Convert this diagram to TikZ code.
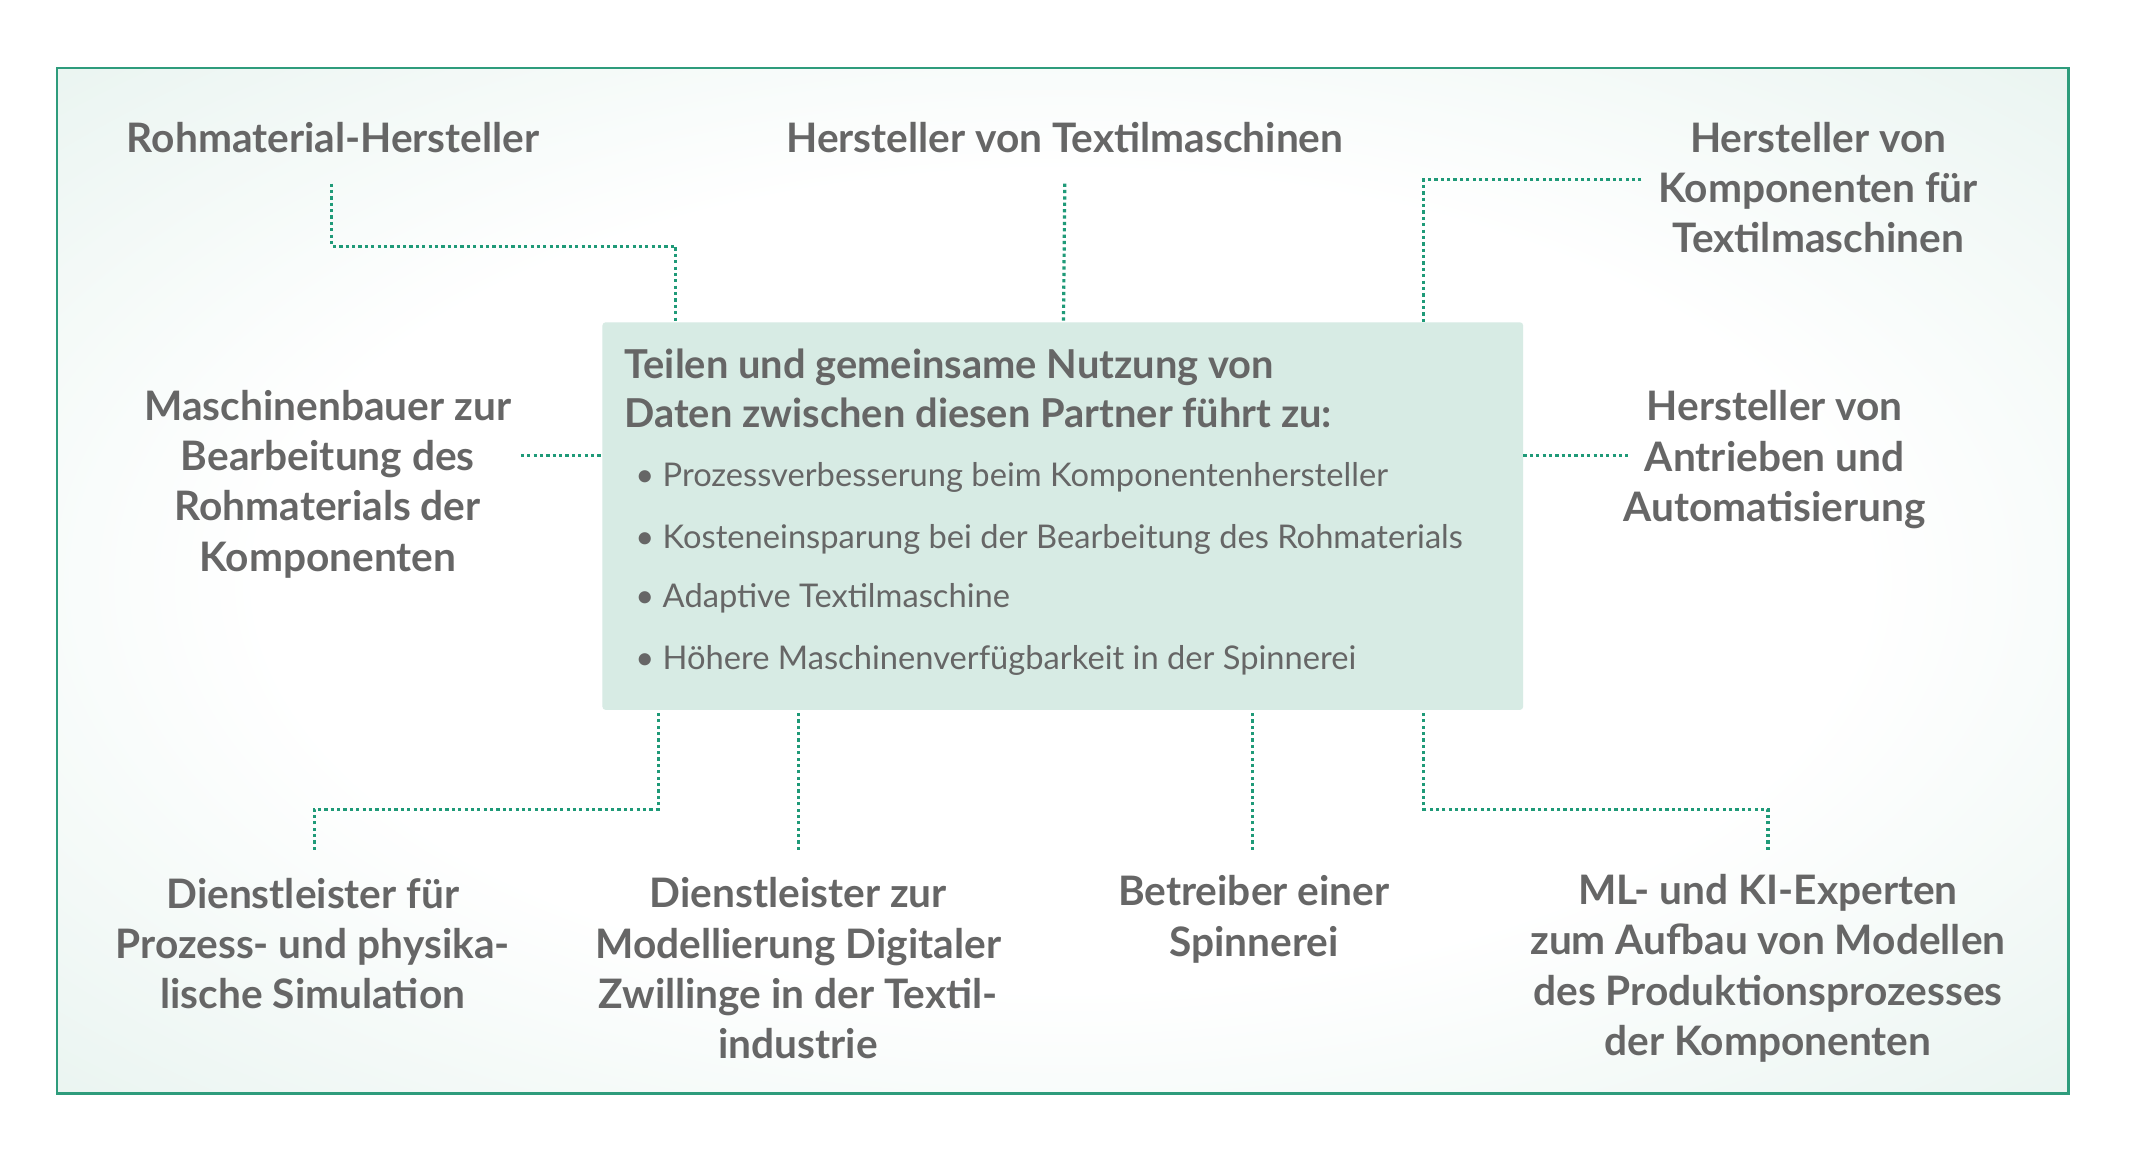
\documentclass[tikz,border=0pt]{standalone}
\usepackage{fontspec}
\setmainfont{Lato}
\usetikzlibrary{positioning}
\definecolor{frame}{HTML}{2E9C7C}
\definecolor{dots}{HTML}{1F9A78}
\definecolor{mint}{HTML}{DDEEE8}
\definecolor{boxfill}{HTML}{D7EBE4}
\definecolor{txt}{HTML}{666666}
\pgfdeclareradialshading{glow}{\pgfpoint{0cm}{0cm}}{color(0cm)=(white); color(0.7cm)=(white); color(1.6cm)=(mint); color(2cm)=(mint)}
\begin{document}
\begin{tikzpicture}[x=0.03cm, y=-0.03cm,
    partner/.style={align=center, text=txt, font=\fontsize{25.5}{31.5}\selectfont\bfseries, inner sep=0pt},
    link/.style={dots, line width=2pt, dotted}]
    \useasboundingbox (0,0) rectangle (1567,846.5);
    \shade[shading=glow] (42,50) rectangle (1521,804);
    \draw[frame, line width=1.5pt] (42,50) rectangle (1521,804);
    % center box
    \node[fill=boxfill, rounded corners=2pt, minimum width=677*0.03cm, minimum height=285*0.03cm, inner sep=0pt] (box) at (781.5,379.5) {};
    \node[anchor=base west, text=txt, font=\fontsize{25}{31.5}\selectfont\bfseries, inner sep=0pt] at (459,278) {Teilen und gemeinsame Nutzung von};
    \node[anchor=base west, text=txt, font=\fontsize{25}{31.5}\selectfont\bfseries, inner sep=0pt] at (459,314) {Daten zwischen diesen Partner führt zu:};
    \foreach \y/\t in {358/Prozessverbesserung beim Komponentenhersteller,
                       403/Kosteneinsparung bei der Bearbeitung des Rohmaterials,
                       447/Adaptive Textilmaschine,
                       492/Höhere Maschinenverfügbarkeit in der Spinnerei}
        \node[anchor=base west, text=txt, font=\fontsize{20.5}{24}\selectfont, inner sep=0pt] at (467,\y) {\textbullet\ \t};
    % partners
    \node[partner] (roh) at (245,101) {Rohmaterial-Hersteller};
    \node[partner] (tex) at (783,101) {Hersteller von Textilmaschinen};
    \node[partner] (komp) at (1337,138) {Hersteller von\\Komponenten für\\Textilmaschinen};
    \node[partner] (mb) at (241,356) {Maschinenbauer zur\\Bearbeitung des\\Rohmaterials der\\Komponenten};
    \node[partner] (antr) at (1305,338) {Hersteller von\\Antrieben und\\Automatisierung};
    \node[partner] (sim) at (230,694) {Dienstleister für\\Prozess- und physika-\\lische Simulation};
    \node[partner] (dz) at (587,712) {Dienstleister zur\\Modellierung Digitaler\\Zwillinge in der Textil-\\industrie};
    \node[partner] (spin) at (922,676) {Betreiber einer\\Spinnerei};
    \node[partner] (ml) at (1300,712) {ML- und KI-Experten\\zum Aufbau von Modellen\\des Produktionsprozesses\\der Komponenten};
    % connectors
    \coordinate (c1) at (244,135);
    \coordinate (c2) at (1207,132);
    \coordinate (c3) at (231,625);
    \coordinate (c4) at (1300,625);
    \draw[link] (c1) |- (497,181) -- (497,237);
    \draw[link] (tex.south |- 0,135) -- (782,237);
    \draw[link] (c2) -| (1047,237);
    \draw[link] (383,335) -- (box.west |- 0,335);
    \draw[link] (box.east |- 0,335) -- (1197,335);
    \draw[link] (c3) |- (484,595) -- (484,522);
    \draw[link] (587,625) -- (587,522);
    \draw[link] (921,625) -- (921,522);
    \draw[link] (c4) |- (1047,595) -- (1047,522);
\end{tikzpicture}
\end{document}
